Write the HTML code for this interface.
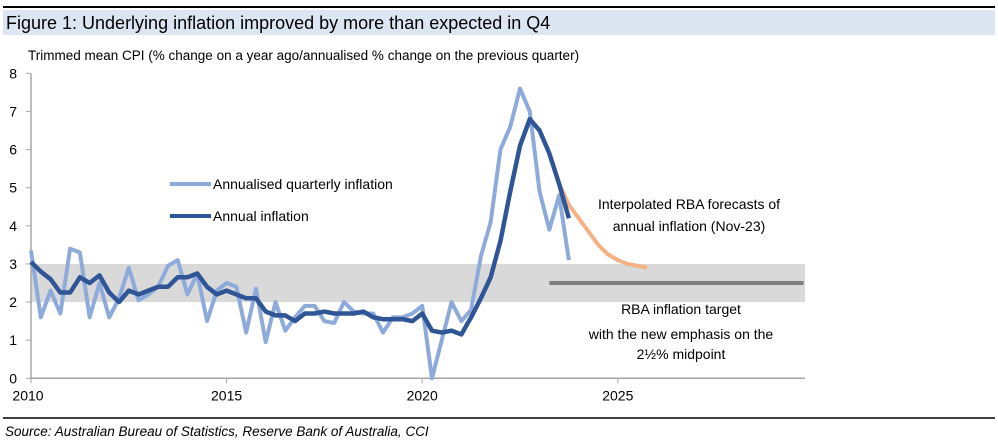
<!DOCTYPE html>
<html><head><meta charset="utf-8"><style>
body{margin:0;background:#fff;font-family:"Liberation Sans",sans-serif;}
svg text{font-family:"Liberation Sans",sans-serif;}
</style></head><body>
<svg width="998" height="442" xmlns="http://www.w3.org/2000/svg">
<line x1="3" y1="7" x2="995" y2="7" stroke="#000" stroke-width="2"/>
<rect x="3" y="10" width="992" height="25" fill="#dce6f2"/>
<text x="6" y="29" font-size="18" fill="#000">Figure 1: Underlying inflation improved by more than expected in Q4</text>
<text x="28" y="60" font-size="13.5" fill="#000">Trimmed mean CPI (% change on a year ago/annualised % change on the previous quarter)</text>
<g id="plot"></g>
<line x1="3" y1="418" x2="995" y2="418" stroke="#000" stroke-width="1.5"/>
<text x="5" y="436" font-size="13.5" font-style="italic">Source: Australian Bureau of Statistics, Reserve Bank of Australia, CCI</text>
</svg>
<script>
const quarterly=[3.35,1.6,2.3,1.7,3.4,3.3,1.6,2.5,1.6,2.1,2.9,2.05,2.2,2.4,2.95,3.1,2.2,2.75,1.5,2.3,2.5,2.4,1.2,2.35,0.95,2.0,1.25,1.6,1.9,1.9,1.5,1.45,2.0,1.75,1.7,1.7,1.2,1.6,1.6,1.7,1.9,0.0,1.0,2.0,1.5,1.8,3.2,4.1,6.0,6.6,7.6,7.0,4.9,3.9,4.8,3.1];
const annual=[3.05,2.8,2.6,2.25,2.25,2.65,2.5,2.7,2.25,2.0,2.3,2.2,2.3,2.4,2.4,2.65,2.65,2.75,2.4,2.2,2.3,2.2,2.1,2.1,1.75,1.65,1.65,1.5,1.7,1.7,1.75,1.7,1.7,1.7,1.75,1.6,1.55,1.55,1.55,1.5,1.7,1.25,1.2,1.25,1.15,1.6,2.1,2.65,3.6,4.9,6.1,6.8,6.5,5.9,5.1,4.2];
const forecastStart=54;
const forecast=[5.1,4.55,4.2,3.85,3.5,3.25,3.1,3.0,2.95,2.9];
const targetValue=2.5, targetStart=53, targetEnd=79;
const bandLow=2, bandHigh=3;
const yTicks=[0,1,2,3,4,5,6,7,8];
const xTickLabels=["2010","2015","2020","2025"];
const xTickIdx=[0,20,40,60];
const X0=31,STEP=9.78,XEND=805,Y0=378.3,YS=38.12;
const x=i=>X0+i*STEP, y=v=>Y0-v*YS;
const NS="http://www.w3.org/2000/svg", g=document.getElementById('plot');
function mk(t,a){const e=document.createElementNS(NS,t);for(const k in a)e.setAttribute(k,a[k]);g.appendChild(e);return e;}
let e=mk('rect',{x:X0,y:y(bandHigh),width:XEND-X0,height:y(bandLow)-y(bandHigh),fill:'#d9d9d9'});


e=mk('line',{x1:X0,y1:y(8),x2:X0,y2:Y0,stroke:'#a6a6a6','stroke-width':1.5});


e=mk('line',{x1:X0,y1:Y0,x2:XEND,y2:Y0,stroke:'#a6a6a6','stroke-width':1.5});


yTicks.forEach(v=>{
 mk('line',{x1:X0-5,y1:y(v),x2:X0,y2:y(v),stroke:'#a6a6a6'});
 const t=mk('text',{x:17,y:y(v)+5,'font-size':14,'text-anchor':'end'});t.textContent=v;
 
 
});
xTickIdx.forEach((q,k)=>{
 mk('line',{x1:x(q),y1:Y0,x2:x(q),y2:Y0+5,stroke:'#a6a6a6'});
 const t=mk('text',{x:k==0?x(q)-3:x(q),y:Y0+22,'font-size':14,'text-anchor':'middle'});t.textContent=xTickLabels[k];
 
 
});
e=mk('line',{x1:x(targetStart),y1:y(targetValue),x2:x(targetEnd),y2:y(targetValue),stroke:'#7f7f7f','stroke-width':4});


const pts=(arr,s)=>arr.map((v,i)=>x(i+s)+','+y(v)).join(' ');
e=mk('polyline',{points:pts(forecast,forecastStart),fill:'none',stroke:'#f4b183','stroke-width':4,'stroke-linejoin':'round'});


e=mk('polyline',{points:pts(quarterly,0),fill:'none',stroke:'#8eaadb','stroke-width':4,'stroke-linejoin':'round'});


e=mk('polyline',{points:pts(annual,0),fill:'none',stroke:'#2f5597','stroke-width':4.5,'stroke-linejoin':'round'});


[['#8eaadb','Annualised quarterly inflation',184,'legend-quarterly'],['#2f5597','Annual inflation',216,'legend-annual']].forEach(L=>{
 mk('line',{x1:170,y1:L[2],x2:211,y2:L[2],stroke:L[0],'stroke-width':4});
 const t=mk('text',{x:213,y:L[2]+5,'font-size':14});t.textContent=L[1];
 
 
});
[['Interpolated RBA forecasts of',689,209],['annual inflation (Nov-23)',689,231],['RBA inflation target',681,314],['with the new emphasis on the',681,339],['2½% midpoint',681,359]].forEach((a,i)=>{
 const t=mk('text',{x:a[1],y:a[2],'text-anchor':'middle','font-size':14});t.textContent=a[0];
 
 
});
</script>
</body></html>
